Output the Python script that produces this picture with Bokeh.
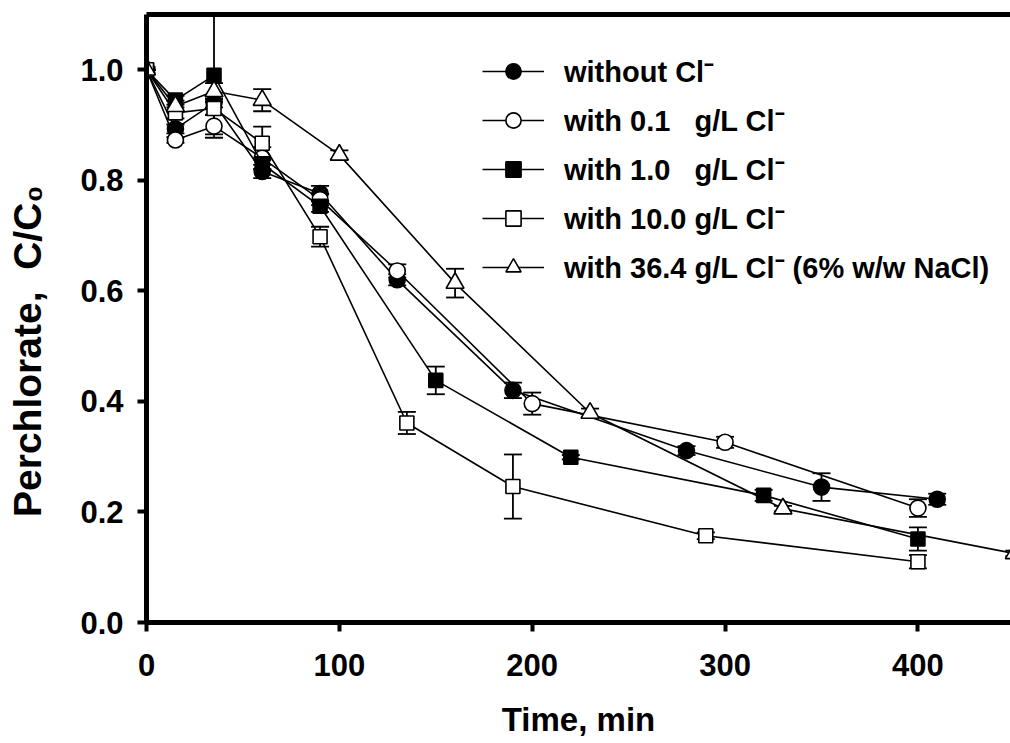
import numpy as np
from bokeh.plotting import figure
from bokeh.models import (Range1d, FixedTicker, LinearAxis, Legend, LegendItem,
                          Whisker, TeeHead, ColumnDataSource, PrintfTickFormatter)
from bokeh.embed import file_html
from bokeh.resources import INLINE

# ---- data ----
t_none = [0, 15, 35, 60, 90, 130, 190, 280, 350, 410]
c_none = [1.0, 0.893, 0.94, 0.816, 0.776, 0.62, 0.42, 0.311, 0.245, 0.223]
e_none = [0.0, 0.008, 0.008, 0.012, 0.014, 0.01, 0.014, 0.008, 0.025, 0.01]

t_01 = [0, 15, 35, 60, 90, 130, 200, 300, 400]
c_01 = [1.0, 0.873, 0.898, 0.84, 0.765, 0.636, 0.396, 0.326, 0.207]
e_01 = [0.0, 0.005, 0.021, 0.02, 0.01, 0.012, 0.02, 0.01, 0.016]

t_10 = [0, 15, 35, 60, 90, 150, 220, 320, 400]
c_10 = [1.0, 0.945, 0.99, 0.83, 0.753, 0.438, 0.299, 0.23, 0.151]
e_10 = [0.0, 0.008, 0.107, 0.01, 0.01, 0.025, 0.004, 0.01, 0.021]

t_100 = [0, 15, 35, 60, 90, 135, 190, 290, 400]
c_100 = [1.0, 0.922, 0.93, 0.867, 0.698, 0.361, 0.246, 0.157, 0.11]
e_100 = [0.0, 0.01, 0.012, 0.03, 0.018, 0.02, 0.058, 0.006, 0.012]

t_364 = [0, 15, 35, 60, 100, 160, 230, 330, 450]
c_364 = [1.0, 0.934, 0.961, 0.945, 0.846, 0.614, 0.379, 0.206, 0.125]
e_364 = [0.005, 0.01, 0.015, 0.02, 0.008, 0.026, 0.008, 0.005, 0.005]

labels = ["without Cl\u207b",
          "with 0.1\u2007 g/L Cl\u207b",
          "with 1.0\u2007 g/L Cl\u207b",
          "with 10.0 g/L Cl\u207b",
          "with 36.4 g/L Cl\u207b (6% w/w NaCl)"]

x_ticks = [0, 100, 200, 300, 400]
y_ticks = [0.0, 0.2, 0.4, 0.6, 0.8, 1.0]

FONT = "Liberation Sans"

p = figure(width=1010, height=743, output_backend="svg", toolbar_location=None,
           x_range=Range1d(0, 448), y_range=Range1d(0, 1.1),
           min_border_left=146, min_border_right=0, min_border_top=14,
           min_border_bottom=121)
p.outline_line_color = None
p.grid.visible = False
p.background_fill_color = "white"
p.border_fill_color = "white"

for ax in (p.xaxis[0], p.yaxis[0]):
    ax.axis_line_width = 5
    ax.axis_line_color = "black"
    ax.major_tick_line_width = 4
    ax.major_tick_out = 9
    ax.major_tick_in = 0
    ax.minor_tick_line_color = None
    ax.major_label_text_font = FONT
    ax.major_label_text_font_style = "bold"
    ax.major_label_text_font_size = "31px"
    ax.major_label_text_color = "black"
    ax.axis_label_text_font = FONT
    ax.axis_label_text_font_style = "bold"
    ax.axis_label_text_color = "black"

p.xaxis.ticker = FixedTicker(ticks=x_ticks)
p.yaxis.ticker = FixedTicker(ticks=y_ticks)
p.yaxis.formatter = PrintfTickFormatter(format="%.1f")
p.xaxis.major_label_standoff = 22
p.yaxis.major_label_standoff = 14
p.xaxis.axis_label = "Time, min"
p.xaxis.axis_label_text_font_size = "33px"
p.xaxis.axis_label_standoff = 22
p.yaxis.axis_label = "Perchlorate,\u00a0 C/C\u2080" + "\u2007" * 3
p.yaxis.axis_label_text_font_size = "39px"
p.yaxis.axis_label_standoff = 28

top = LinearAxis(ticker=FixedTicker(ticks=[]), axis_line_width=5,
                 major_label_text_font_size="0px", major_label_standoff=0,
                 major_tick_out=0, major_tick_in=0, minor_tick_out=0, minor_tick_in=0)
p.add_layout(top, "above")

series = [
    (t_none, c_none, e_none, "circle", "black", 16),
    (t_01, c_01, e_01, "circle", "white", 16),
    (t_10, c_10, e_10, "square", "black", 14),
    (t_100, c_100, e_100, "square", "white", 14),
    (t_364, c_364, e_364, "triangle", "white", 18),
]

items = []
for (t, c, e, marker, fill, size), lab in zip(series, labels):
    src = ColumnDataSource(dict(t=t, c=c,
                                lo=[a - b for a, b in zip(c, e)],
                                hi=[a + b for a, b in zip(c, e)]))
    ln = p.line("t", "c", source=src, line_color="black", line_width=1.6)
    w = Whisker(base="t", lower="lo", upper="hi", source=src,
                line_color="black", line_width=1.8,
                upper_head=TeeHead(size=18, line_width=1.8, line_color="black"),
                lower_head=TeeHead(size=18, line_width=1.8, line_color="black"))
    p.add_layout(w)
    sc = p.scatter("t", "c", source=src, marker=marker, size=size,
                   fill_color=fill, line_color="black", line_width=1.6)
    items.append(LegendItem(label=lab, renderers=[ln, sc]))

legend = Legend(items=items, location=(336, 336), orientation="vertical",
                glyph_width=62, glyph_height=38, label_height=38,
                label_width=10, spacing=10, padding=0, margin=0,
                label_standoff=20, border_line_color=None,
                background_fill_alpha=0,
                label_text_font=FONT, label_text_font_style="bold",
                label_text_font_size="29px", label_text_color="black")
p.add_layout(legend, "center")

open("out.html", "w").write(file_html(p, INLINE))
